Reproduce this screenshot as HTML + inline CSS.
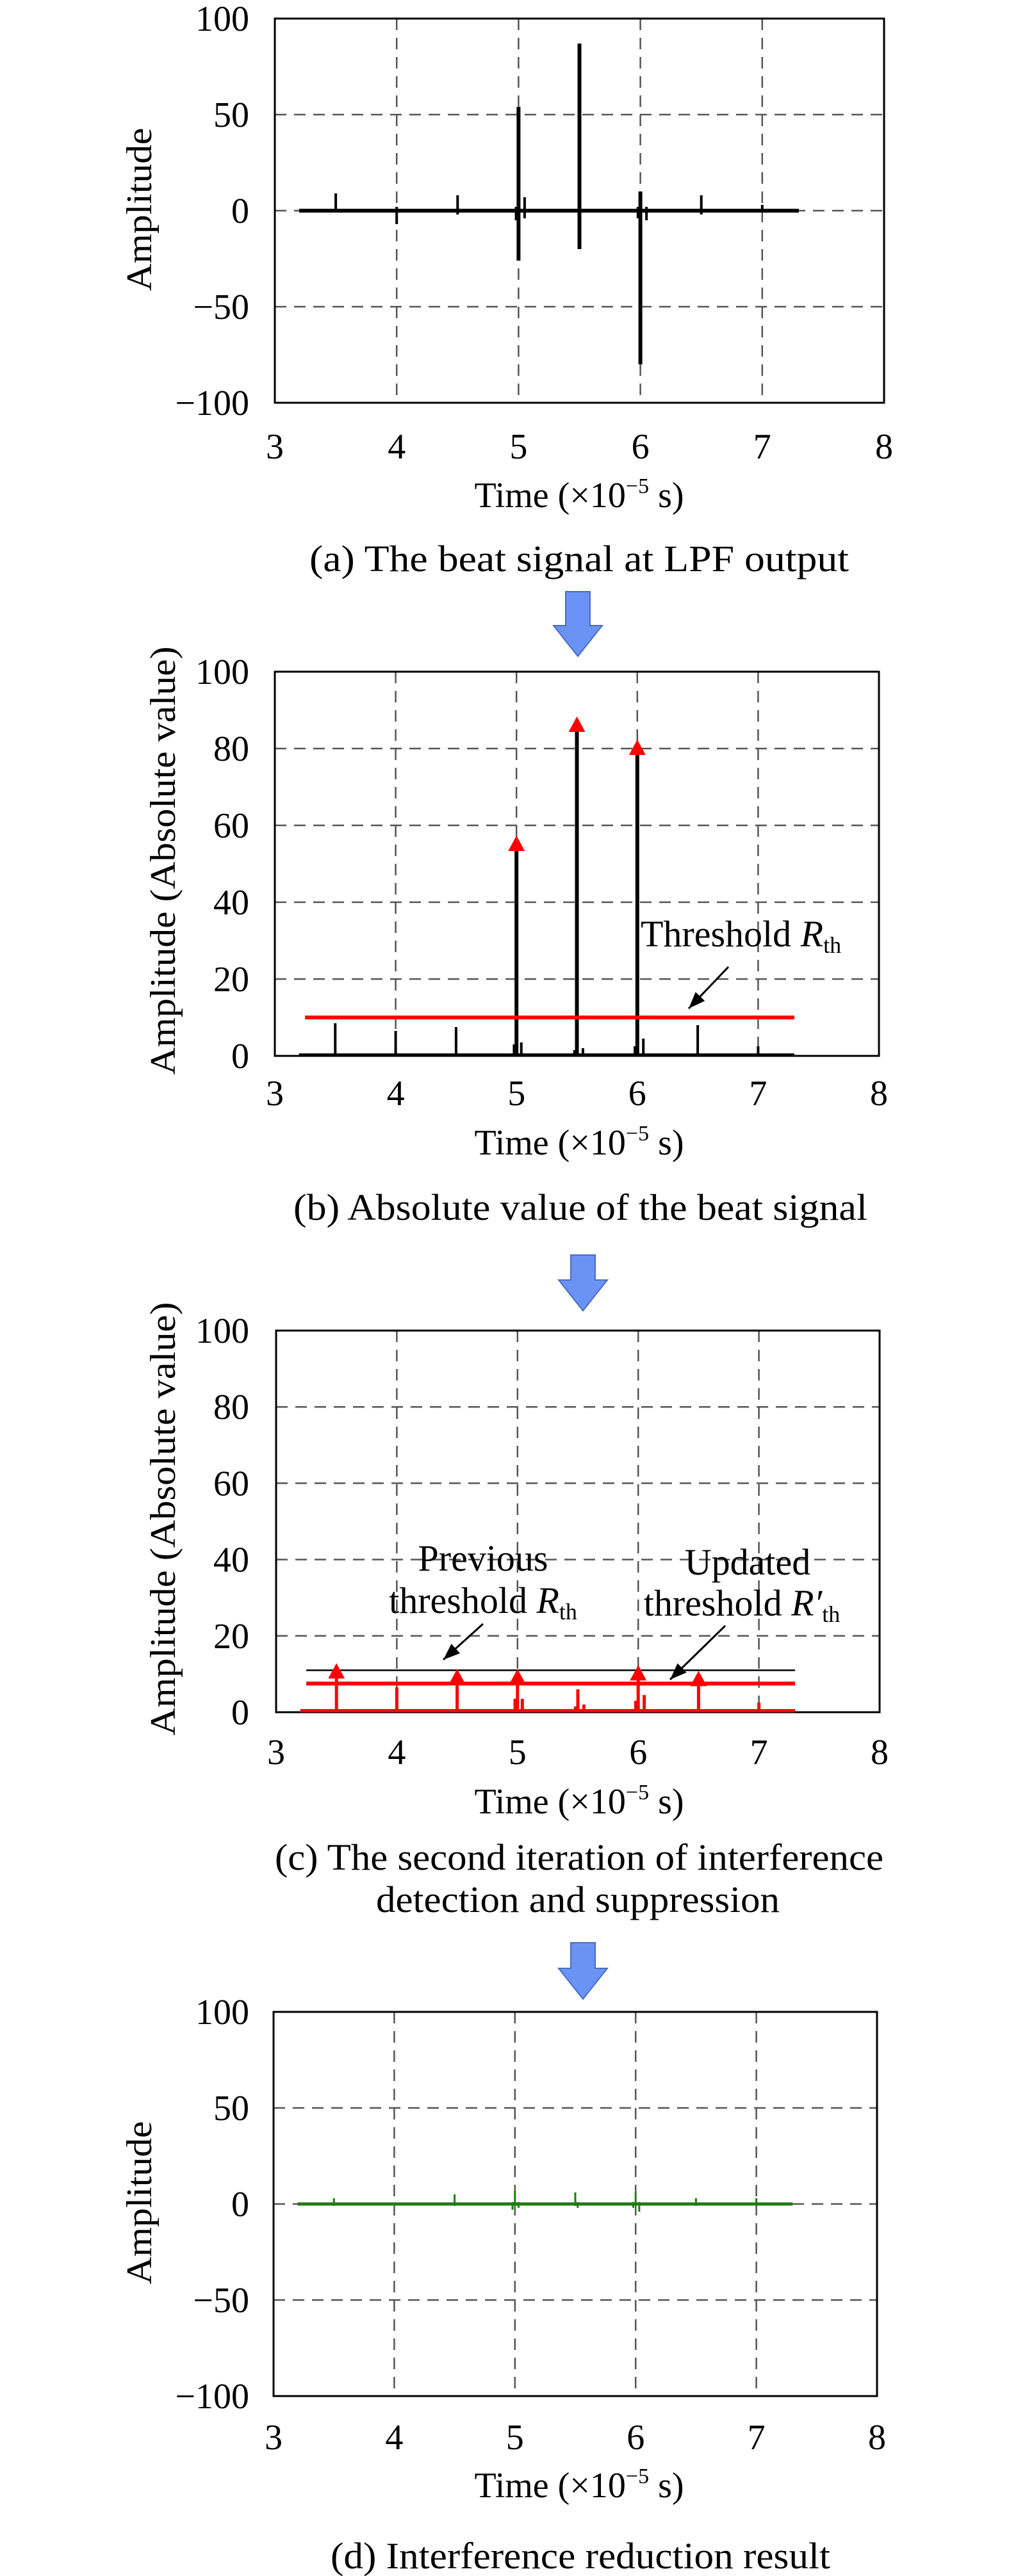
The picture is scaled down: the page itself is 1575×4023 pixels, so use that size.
<!DOCTYPE html>
<html><head><meta charset="utf-8">
<style>
html,body{margin:0;padding:0;background:#fff;}
svg{display:block;}
text{font-family:"Liberation Serif",serif;fill:#000;}
</style></head>
<body>
<svg id="fig" width="1575" height="4023" viewBox="0 0 1575 4023" xmlns="http://www.w3.org/2000/svg">
<g id="layer"></g>
</svg>
<script>
// ---------- data ----------
const xTicks = [3, 4, 5, 6, 7, 8];
const ticksSigned = [100, 50, 0, -50, -100];
const ticksAbs = [100, 80, 60, 40, 20, 0];
const signalRange = [3.2, 7.3];
// chart (a): spikes [time, positive peak, negative peak]
const spikeTimesA = [3.5, 4.0, 4.5, 4.98, 5.0, 5.05, 5.5, 5.98, 6.0, 6.05, 6.5, 7.0];
const spikeUpA    = [9,   2,   8,   2,    54,  7,    87,  2,    10,  2,    8,   3];
const spikeDownA  = [-1, -7,  -2,  -5,   -26, -4,   -20, -4,   -80, -5,   -2,  -1];
// chart (b): absolute value spikes
const spikeTimesB = [3.5, 4.0, 4.5, 4.98, 5.0, 5.04, 5.48, 5.5, 5.55, 5.98, 6.0, 6.05, 6.5, 7.0];
const spikeValsB  = [8.5, 6.5, 7.5, 3,    55,  3.5,  1.5,  86,  2,    2.5,  80,  4.5,  8,   2.5];
const peakTimesB  = [5.0, 5.5, 6.0];
const peakValsB   = [55, 86, 80];
const thresholdB  = 10;
// chart (c)
const spikeTimesC = [3.5, 4.0, 4.5, 4.98, 5.0, 5.04, 5.48, 5.5, 5.55, 5.98, 6.0, 6.05, 6.5, 7.0];
const spikeValsC  = [10,  6.5, 9,   3.5,  9,   3.5,  1.5,  6,   2,    3,    10,  4.5,  8.5, 2.5];
const peakTimesC  = [3.5, 4.5, 5.0, 6.0, 6.5];
const peakValsC   = [10.5, 9, 9, 10, 8.5];
const prevThresholdC = 11;
const newThresholdC  = 7.5;
// chart (d)
const spikeTimesD = [3.5, 4.5, 4.98, 5.0, 5.03, 5.5, 5.52, 5.98, 6.0, 6.03, 6.5, 7.0];
const spikeUpD    = [3,   5,   1,    7,   1,    6,   1,    1,    6,   1,    3,   3];
const spikeDownD  = [-1, -1,  -3,   -1,  -2,   -1,  -2,   -2,   -1,  -4,   -1,  -1];

// ---------- helpers ----------
const NS = "http://www.w3.org/2000/svg";
const layer = document.getElementById("layer");
function el(tag, attrs, parent) {
  const e = document.createElementNS(NS, tag);
  for (const k in attrs) e.setAttribute(k, attrs[k]);
  (parent || layer).appendChild(e);
  return e;
}
function txt(s, attrs, parent) { const t = el("text", attrs, parent); t.textContent = s; return t; }

function makeChart(cfg) {
  const g = el("g", {});
  
  
  const X = t => cfg.l + (t - 3) / 5 * (cfg.r - cfg.l);
  const Y = v => cfg.b - (v - cfg.ymin) / (cfg.ymax - cfg.ymin) * (cfg.b - cfg.t);
  const grid = el("g", {stroke: "#555", "stroke-width": 2.5, "stroke-dasharray": "18 12", fill: "none"}, g);
  
  
  xTicks.slice(1, -1).forEach(t => {
    const ln = el("line", {x1: X(t), x2: X(t), y1: cfg.t, y2: cfg.b}, grid);
    
    
  });
  cfg.yt.forEach(v => {
    if (v === cfg.ymin) return;
    const ln = el("line", {x1: cfg.l, x2: cfg.r, y1: Y(v), y2: Y(v)}, grid);
    
    
  });
  const fr = el("rect", {x: cfg.l, y: cfg.t, width: cfg.r - cfg.l, height: cfg.b - cfg.t, fill: "none", stroke: "#000", "stroke-width": 3}, g);
  
  
  cfg.yt.forEach(v => {
    const t = txt(v < 0 ? "\u2212" + (-v) : String(v), {x: 389, y: Y(v) + 19, "font-size": 56, "text-anchor": "end"}, g);
    
    
  });
  xTicks.forEach(v => {
    const t = txt(String(v), {x: X(v), y: cfg.xl + 19, "font-size": 56, "text-anchor": "middle"}, g);
    
    
  });
  const xt = txt("", {x: 904, y: cfg.xtY + 19, "font-size": 56, "text-anchor": "middle"}, g);
  
  
  xt.innerHTML = 'Time (\u00d710<tspan font-size="34" dy="-22">\u22125</tspan><tspan dy="22"> s)</tspan>';
  const yt = txt(cfg.ytitle, {x: 0, y: 0, "font-size": 56, "text-anchor": "middle", textLength: cfg.ylen, lengthAdjust: "spacingAndGlyphs",
    transform: `translate(${cfg.ytx + 19},${cfg.yty}) rotate(-90)`}, g);
  
  
  cfg.cap.forEach(c => {
    const t = txt(c[0], {x: c[1], y: c[2] + 19, "font-size": 58, "text-anchor": "middle", textLength: c[3], lengthAdjust: "spacingAndGlyphs"}, g);
    
    
  });
  return {g, X, Y};
}

function arrow(cx, top, tip) {
  const a = el("polygon", {points: `${cx-19},${top} ${cx+19},${top} ${cx+19},${tip-48} ${cx+38},${tip-48} ${cx},${tip} ${cx-38},${tip-48} ${cx-19},${tip-48}`,
    fill: "#6b93f5", stroke: "#4a6cc0", "stroke-width": 2});
  
  
}
function pointer(x1, y1, x2, y2, g) {
  const ln = el("line", {x1, y1, x2, y2, stroke: "#000", "stroke-width": 3}, g);
  
  
  const ang = Math.atan2(y2 - y1, x2 - x1), L = 26, W = 10;
  const bx = x2 - L * Math.cos(ang), by = y2 - L * Math.sin(ang);
  const hd = el("polygon", {points: `${x2},${y2} ${bx - W*Math.sin(ang)},${by + W*Math.cos(ang)} ${bx + W*Math.sin(ang)},${by - W*Math.cos(ang)}`, fill: "#000"}, g);
  
  
}
function tri(x, y, g, name) {
  const p = el("polygon", {points: `${x},${y-14} ${x+13},${y+10} ${x-13},${y+10}`, fill: "#f00"}, g);
  
  
}

// ---------- chart (a) ----------
{
  const c = makeChart({name: "chart-a-beat-signal", l: 429, r: 1380, t: 29, b: 629, ymin: -100, ymax: 100, yt: ticksSigned,
    xl: 697, xtY: 773, ytitle: "Amplitude", ytx: 217, yty: 327, ylen: 255,
    cap: [["(a) The beat signal at LPF output", 904, 873, 842]]});
  const base = el("line", {x1: c.X(signalRange[0]), x2: c.X(signalRange[1]), y1: c.Y(0), y2: c.Y(0), stroke: "#000", "stroke-width": 6}, c.g);
  
  
  spikeTimesA.forEach((t, i) => {
    const s = el("line", {x1: c.X(t), x2: c.X(t), y1: c.Y(spikeUpA[i]), y2: c.Y(spikeDownA[i]), stroke: "#000", "stroke-width": Math.abs(spikeUpA[i]-spikeDownA[i]) > 40 ? 6 : 4}, c.g);
    
    
  });
}
arrow(902, 924, 1025);

// ---------- chart (b) ----------
{
  const c = makeChart({name: "chart-b-absolute", l: 429, r: 1372, t: 1049, b: 1649, ymin: 0, ymax: 100, yt: ticksAbs,
    xl: 1707, xtY: 1784, ytitle: "Amplitude (Absolute value)", ytx: 254, yty: 1344, ylen: 669,
    cap: [["(b) Absolute value of the beat signal", 906, 1886, 896]]});
  const base = el("line", {x1: c.X(signalRange[0]), x2: c.X(signalRange[1]), y1: c.Y(0.4), y2: c.Y(0.4), stroke: "#000", "stroke-width": 3}, c.g);
  
  
  spikeTimesB.forEach((t, i) => {
    const s = el("line", {x1: c.X(t), x2: c.X(t), y1: c.Y(spikeValsB[i]), y2: c.Y(0), stroke: "#000", "stroke-width": spikeValsB[i] > 40 ? 6 : 4}, c.g);
    
    
  });
  const th = el("line", {x1: c.X(3.25), x2: c.X(signalRange[1]), y1: c.Y(thresholdB), y2: c.Y(thresholdB), stroke: "#f00", "stroke-width": 6}, c.g);
  
  
  peakTimesB.forEach((t, i) => tri(c.X(t), c.Y(peakValsB[i]), c.g, 'peak-marker'));
  const lb = txt("", {x: 1000, y: 1478, "font-size": 58}, c.g);
  
  
  lb.innerHTML = 'Threshold <tspan font-style="italic">R</tspan><tspan font-size="36" dy="10">th</tspan>';
  pointer(1137, 1510, 1075, 1575, c.g);
}
arrow(910, 1960, 2047);

// ---------- chart (c) ----------
{
  const c = makeChart({name: "chart-c-second-iteration", l: 431, r: 1373, t: 2078, b: 2674, ymin: 0, ymax: 100, yt: ticksAbs,
    xl: 2736, xtY: 2813, ytitle: "Amplitude (Absolute value)", ytx: 254, yty: 2372, ylen: 677,
    cap: [["(c) The second iteration of interference", 904, 2901, 950], ["detection and suppression", 902, 2967, 630]]});
  const base = el("line", {x1: c.X(signalRange[0]), x2: c.X(signalRange[1]), y1: c.Y(0.4), y2: c.Y(0.4), stroke: "#f00", "stroke-width": 5}, c.g);
  
  
  spikeTimesC.forEach((t, i) => {
    const s = el("line", {x1: c.X(t), x2: c.X(t), y1: c.Y(spikeValsC[i]), y2: c.Y(0), stroke: "#f00", "stroke-width": 5}, c.g);
    
    
  });
  const pt = el("line", {x1: c.X(3.25), x2: c.X(signalRange[1]), y1: c.Y(prevThresholdC), y2: c.Y(prevThresholdC), stroke: "#000", "stroke-width": 2.5}, c.g);
  
  
  const nt = el("line", {x1: c.X(3.25), x2: c.X(signalRange[1]), y1: c.Y(newThresholdC), y2: c.Y(newThresholdC), stroke: "#f00", "stroke-width": 6}, c.g);
  
  
  peakTimesC.forEach((t, i) => tri(c.X(t), c.Y(peakValsC[i]), c.g, 'peak-marker'));
  const l1 = txt("Previous", {x: 754, y: 2453, "font-size": 58, "text-anchor": "middle"}, c.g);
  
  
  const l2 = txt("", {x: 754, y: 2519, "font-size": 58, "text-anchor": "middle"}, c.g);
  
  
  l2.innerHTML = 'threshold <tspan font-style="italic">R</tspan><tspan font-size="36" dy="10">th</tspan>';
  const l3 = txt("Updated", {x: 1167, y: 2459, "font-size": 58, "text-anchor": "middle"}, c.g);
  
  
  const l4 = txt("", {x: 1158, y: 2523, "font-size": 58, "text-anchor": "middle"}, c.g);
  
  
  l4.innerHTML = 'threshold <tspan font-style="italic">R\u2032</tspan><tspan font-size="36" dy="10">th</tspan>';
  pointer(754, 2536, 692, 2592, c.g);
  pointer(1132, 2539, 1046, 2623, c.g);
}
arrow(910, 3034, 3122);

// ---------- chart (d) ----------
{
  const c = makeChart({name: "chart-d-reduction-result", l: 427, r: 1369, t: 3142, b: 3742, ymin: -100, ymax: 100, yt: ticksSigned,
    xl: 3806, xtY: 3881, ytitle: "Amplitude", ytx: 217, yty: 3440, ylen: 255,
    cap: [["(d) Interference reduction result", 906, 3992, 780]]});
  const base = el("line", {x1: c.X(signalRange[0]), x2: c.X(signalRange[1]), y1: c.Y(0), y2: c.Y(0), stroke: "#1f7a12", "stroke-width": 5}, c.g);
  
  
  spikeTimesD.forEach((t, i) => {
    const s = el("line", {x1: c.X(t), x2: c.X(t), y1: c.Y(spikeUpD[i]), y2: c.Y(spikeDownD[i]), stroke: "#1f7a12", "stroke-width": 3}, c.g);
    
    
  });
}
</script>
</body></html>
